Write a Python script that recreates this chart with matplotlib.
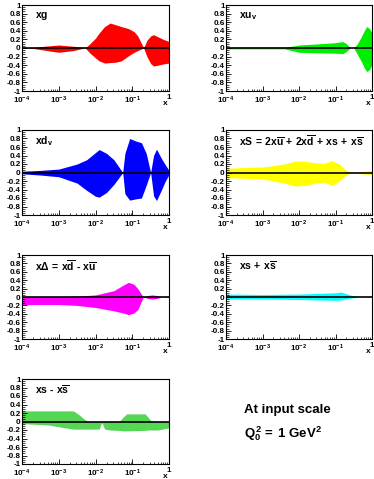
import numpy as np
import matplotlib
matplotlib.use("Agg")
import matplotlib.pyplot as plt
from matplotlib.ticker import LogLocator, MultipleLocator, NullFormatter

plt.rcParams['font.family'] = ['Liberation Sans', 'DejaVu Sans']
plt.rcParams['font.weight'] = 'bold'
plt.rcParams['mathtext.fontset'] = 'custom'
plt.rcParams['mathtext.rm'] = 'Liberation Sans:bold'
plt.rcParams['mathtext.it'] = 'Liberation Sans:bold'
plt.rcParams['mathtext.bf'] = 'Liberation Sans:bold'
plt.rcParams['mathtext.sf'] = 'Liberation Sans:bold'

# ---- data: log10(x) grid and upper / lower edges of each uncertainty band ----
xg_logx = [-4, -3.7, -3.4, -3.0, -2.6, -2.35, -2.28, -2.15, -2.0, -1.9, -1.75, -1.6,
           -1.45, -1.3, -1.1, -0.95, -0.85, -0.69, -0.6, -0.5, -0.42, -0.3, -0.15, 0]
xg_up = [0, 0.01, 0.04, 0.07, 0.04, 0.01, 0.0, 0.1, 0.23, 0.35, 0.5, 0.58,
         0.54, 0.5, 0.45, 0.38, 0.28, 0.0, 0.18, 0.28, 0.31, 0.26, 0.2, 0.15]
xg_lo = [0, -0.01, -0.05, -0.1, -0.06, -0.01, 0.0, -0.12, -0.23, -0.3, -0.35, -0.34,
         -0.33, -0.3, -0.18, -0.1, -0.06, 0.0, -0.2, -0.36, -0.42, -0.4, -0.37, -0.35]

xuv_logx = [-4, -3.0, -2.4, -2.2, -2.0, -1.6, -1.05, -0.8, -0.7, -0.6, -0.5, -0.4,
            -0.3, -0.2, -0.14, -0.07, 0]
xuv_up = [0.02, 0.02, 0.02, 0.04, 0.07, 0.09, 0.12, 0.15, 0.1, 0.0, 0.0, 0.1,
          0.25, 0.42, 0.5, 0.45, 0.35]
xuv_lo = [-0.02, -0.02, -0.02, -0.06, -0.1, -0.11, -0.12, -0.13, -0.08, 0.0, 0.0, -0.15,
          -0.3, -0.48, -0.55, -0.5, -0.4]

xdv_logx = [-4, -3.5, -3.0, -2.5, -2.24, -2.0, -1.9, -1.7, -1.5, -1.26, -1.2, -1.07,
            -0.9, -0.75, -0.62, -0.5, -0.42, -0.34, -0.2, -0.1, 0]
xdv_up = [0.03, 0.05, 0.08, 0.2, 0.3, 0.47, 0.54, 0.45, 0.3, 0.0, 0.45, 0.8,
          0.74, 0.7, 0.45, 0.0, 0.4, 0.55, 0.32, 0.18, 0.05]
xdv_lo = [-0.03, -0.06, -0.1, -0.25, -0.42, -0.56, -0.58, -0.47, -0.28, 0.0, -0.5, -0.65,
          -0.62, -0.6, -0.3, 0.0, -0.55, -0.66, -0.4, -0.2, -0.05]

xS_logx = [-4, -3.0, -2.4, -2.1, -1.8, -1.5, -1.3, -1.1, -0.9, -0.7, -0.55, -0.3, 0]
xS_up = [0.1, 0.13, 0.2, 0.27, 0.26, 0.22, 0.22, 0.28, 0.2, 0.05, 0.0, 0.03, 0.04]
xS_lo = [-0.12, -0.15, -0.25, -0.32, -0.3, -0.24, -0.23, -0.3, -0.2, -0.05, 0.0, -0.03, -0.05]

xD_logx = [-4, -3.0, -2.5, -2.0, -1.5, -1.25, -1.1, -0.95, -0.85, -0.7, -0.55, -0.45,
           -0.3, -0.2, 0]
xD_up = [0.01, 0.01, 0.02, 0.05, 0.15, 0.28, 0.35, 0.3, 0.2, 0.0, 0.04, 0.05,
         0.03, 0.0, 0.01]
xD_lo = [-0.18, -0.18, -0.2, -0.25, -0.33, -0.38, -0.42, -0.38, -0.3, 0.0, -0.04, -0.05,
         -0.03, 0.0, -0.01]

xsp_logx = [-4, -3.0, -2.0, -1.0, -0.85, -0.6, -0.35, 0]
xsp_up = [0.07, 0.06, 0.07, 0.1, 0.12, 0.05, 0.0, 0.0]
xsp_lo = [-0.05, -0.05, -0.06, -0.08, -0.07, -0.03, 0.0, 0.0]

xsm_logx = [-4, -3.3, -2.6, -2.45, -2.3, -2.2, -1.9, -1.83, -1.75, -1.6, -1.35, -1.25,
            -1.15, -0.65, -0.55, -0.48, -0.3, 0]
xsm_up = [0.25, 0.25, 0.25, 0.16, 0.05, 0.0, 0.0, 0.0, 0.0, 0.0, 0.0, 0.1,
          0.18, 0.18, 0.08, 0.0, 0.0, 0.0]
xsm_lo = [-0.05, -0.08, -0.18, -0.18, -0.18, -0.18, -0.18, -0.02, -0.18, -0.2, -0.21, -0.22,
          -0.22, -0.21, -0.2, -0.2, -0.2, -0.15]

panels = [
    (r"$xg$", xg_logx, xg_up, xg_lo, "#ff0000"),
    (r"$xu_v$", xuv_logx, xuv_up, xuv_lo, "#00ee00"),
    (r"$xd_v$", xdv_logx, xdv_up, xdv_lo, "#0000ff"),
    (r"$xS\,=\,2x\overline{u}\,+\,2x\overline{d}\,+\,xs\,+\,x\overline{s}$", xS_logx, xS_up, xS_lo, "#ffff00"),
    (r"$x\Delta\,=\,x\overline{d}\ \text{-}\ x\overline{u}$", xD_logx, xD_up, xD_lo, "#ff00ff"),
    (r"$xs\,+\,x\overline{s}$", xsp_logx, xsp_up, xsp_lo, "#00ffff"),
    (r"$xs\ \text{-}\ x\overline{s}$", xsm_logx, xsm_up, xsm_lo, "#55d655"),
]

xticks = [1e-4, 1e-3, 1e-2, 1e-1, 1]
xticklabels = ["10$^{-4}$", "10$^{-3}$", "10$^{-2}$", "10$^{-1}$", "1"]
yticks = [-1, -0.8, -0.6, -0.4, -0.2, 0, 0.2, 0.4, 0.6, 0.8, 1]
yticklabels = ["-1", "-0.8", "-0.6", "-0.4", "-0.2", "0", "0.2", "0.4", "0.6", "0.8", "1"]

W, H = 374, 479
fig = plt.figure(figsize=(W / 100, H / 100), dpi=100)

cols = [(22, 169), (226, 372)]
rows = [(5, 91), (130, 215), (255, 339), (379, 464)]

for i, (title, lx, up, lo, color) in enumerate(panels):
    c = cols[i % 2]
    r = rows[i // 2]
    ax = fig.add_axes([c[0] / W, 1 - r[1] / H, (c[1] - c[0]) / W, (r[1] - r[0]) / H])
    x = 10 ** np.array(lx, dtype=float)
    ax.fill_between(x, lo, up, color=color, lw=0)
    ax.axhline(0, color="black", lw=1.2)
    ax.set_xscale("log")
    ax.set_xlim(1e-4, 1)
    ax.set_ylim(-1, 1)
    ax.set_xticks(xticks)
    ax.set_xticklabels(xticklabels)
    ax.xaxis.set_minor_locator(LogLocator(base=10, subs=np.arange(2, 10)))
    ax.xaxis.set_minor_formatter(NullFormatter())
    ax.set_yticks(yticks)
    ax.set_yticklabels(yticklabels)
    ax.yaxis.set_minor_locator(MultipleLocator(0.05))
    ax.tick_params(which="both", direction="in", labelsize=5.8, pad=1)
    ax.tick_params(which="major", length=3.5, width=0.6)
    ax.tick_params(which="minor", length=1.8, width=0.5)
    ax.tick_params(axis="x", which="major", pad=2.5)
    for s in ax.spines.values():
        s.set_linewidth(0.8)
    ax.text(0.09, 0.87, title, transform=ax.transAxes, fontsize=7.5, va="center", ha="left")
    ax.text(0.975, -0.15, "x", transform=ax.transAxes, fontsize=6, ha="center", va="center",
            fontweight="bold")

fig.text(244 / W, 1 - 410 / H, "At input scale", fontsize=9.5, fontweight="bold", va="center")
fig.text(244 / W, 1 - 434 / H, r"$Q_0^2\,=\,1\ GeV^2$", fontsize=9.5, va="center")

fig.savefig("out.png", dpi=100)
